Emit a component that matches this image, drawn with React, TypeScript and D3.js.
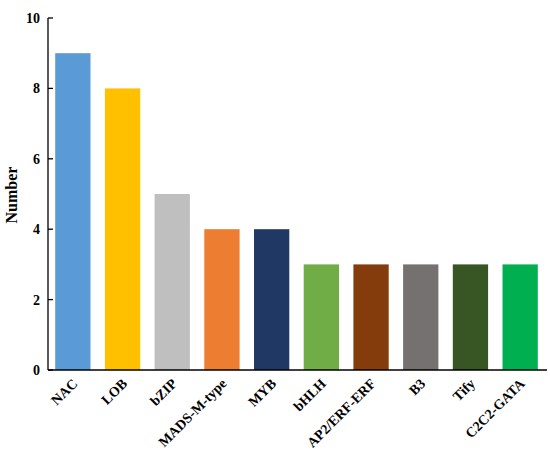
import React from "react";
import * as d3 from "d3";

const categories = ["NAC", "LOB", "bZIP", "MADS-M-type", "MYB", "bHLH", "AP2/ERF-ERF", "B3", "Tify", "C2C2-GATA"];
const values = [9, 8, 5, 4, 4, 3, 3, 3, 3, 3];
const colors = ["#5B9BD5", "#FFC000", "#BFBFBF", "#ED7D31", "#203864", "#70AD47", "#843C0C", "#767171", "#375623", "#00B050"];
const yTicks = [0, 2, 4, 6, 8, 10];

export default function App() {
  const W = 550, H = 461;
  const x0 = 48, x1 = 545, y0 = 370, y1 = 18;
  const x = d3.scaleBand<string>().domain(categories).range([x0, x1]).paddingInner(0.29).paddingOuter(0.145);
  const y = d3.scaleLinear().domain([0, 10]).range([y0, y1]);
  const font = "'Liberation Serif', 'Times New Roman', serif";
  return (
    <svg width={W} height={H} style={{ position: "absolute", left: 0, top: 0, background: "#fff" }}>
      {categories.map((c, i) => (
        <rect key={c} x={x(c)} y={y(values[i])} width={x.bandwidth()} height={y0 - y(values[i])} fill={colors[i]} />
      ))}
      <line x1={x0} x2={x0} y1={y1} y2={y0} stroke="#000" strokeWidth={1.3} />
      <line x1={x0} x2={x1 + 2} y1={y0} y2={y0} stroke="#000" strokeWidth={1.3} />
      {yTicks.map((t) => (
        <g key={t}>
          <line x1={x0} x2={x0 + 5} y1={y(t)} y2={y(t)} stroke="#000" strokeWidth={1.3} />
          <text x={40} y={y(t)} dy="0.35em" textAnchor="end" fontFamily={font} fontWeight="bold" fontSize={14}>{t}</text>
        </g>
      ))}
      <text transform={`translate(17,195) rotate(-90)`} textAnchor="middle" fontFamily={font} fontWeight="bold" fontSize={16}>Number</text>
      {categories.map((c) => {
        const cx = (x(c) as number) + x.bandwidth() / 2 + 2;
        const cy = y0 + 11;
        return (
          <text key={c} transform={`translate(${cx},${cy}) rotate(-45)`} textAnchor="end" dy="0.35em" fontFamily={font} fontWeight="bold" fontSize={14}>{c}</text>
        );
      })}
    </svg>
  );
}
